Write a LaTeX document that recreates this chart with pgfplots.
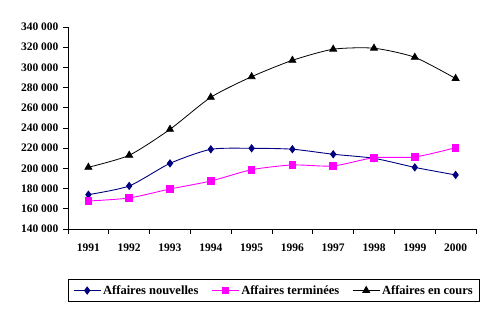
\documentclass[border=0pt]{standalone}
\usepackage{pgfplots}
\pgfplotsset{compat=1.18}
\usepackage{fontspec}
\setmainfont{Liberation Serif}
\definecolor{navyb}{RGB}{0,0,128}
\definecolor{magb}{RGB}{255,0,255}
\begin{document}
\begin{tikzpicture}
\useasboundingbox (-68pt,-92pt) rectangle (423pt,229pt);
\begin{axis}[
  at={(0pt,0pt)}, anchor=south west,
  scale only axis, width=408pt, height=202pt,
  xmin=-0.5, xmax=9.5, ymin=140000, ymax=340000,
  axis x line*=bottom, axis y line*=left,
  axis line style={line width=0.8pt,-},
  xtick={0,...,9},
  xticklabels={1991,1992,1993,1994,1995,1996,1997,1998,1999,2000},
  minor xtick={-0.5,0.5,...,9.5},
  major x tick style={draw=none},
  ytick={140000,160000,180000,200000,220000,240000,260000,280000,300000,320000,340000},
  yticklabels={140 000,160 000,180 000,200 000,220 000,240 000,260 000,280 000,300 000,320 000,340 000},
  tick align=outside, tick style={line width=0.8pt,black},
  major tick length=5pt, minor tick length=5pt,
  scaled y ticks=false,
  yticklabel style={font=\fontsize{11.5}{13}\selectfont\bfseries, xshift=-1pt},
  xticklabel style={font=\fontsize{11.5}{13}\selectfont\bfseries, yshift=-6pt},
  legend columns=3,
  legend style={at={(0.505,-0.2475)}, anchor=north, draw=black, line width=0.8pt,
    font=\fontsize{12.5}{14}\selectfont\bfseries, inner xsep=5pt, inner ysep=4pt,
    /tikz/every even column/.append style={column sep=11pt}},
  legend image code/.code={\draw[mark repeat=2,mark phase=2,#1] plot coordinates {(0pt,0pt) (13.5pt,0pt) (27pt,0pt)};},
]
\addplot[navyb, line width=0.9pt, smooth, tension=0.4, mark=diamond*, mark size=3.5pt, mark options={fill=navyb, solid}] coordinates {
(0,174000) (1,182600) (2,205000) (3,218900) (4,219900) (5,219000) (6,214000) (7,210000) (8,201000) (9,193500)};
\addlegendentry{Affaires nouvelles}
\addplot[magb, line width=0.9pt, smooth, tension=0.4, mark=square*, mark size=3.3pt, mark options={fill=magb, solid}] coordinates {
(0,167700) (1,170700) (2,179600) (3,187500) (4,198700) (5,203400) (6,202400) (7,210600) (8,211300) (9,220500)};
\addlegendentry{Affaires terminées}
\addplot[black, line width=0.8pt, smooth, tension=0.4, mark=triangle*, mark size=4pt, mark options={fill=black, solid}] coordinates {
(0,201100) (1,213000) (2,238700) (3,270400) (4,290800) (5,307000) (6,318000) (7,319000) (8,310000) (9,289000)};
\addlegendentry{Affaires en cours}
\end{axis}
\end{tikzpicture}
\end{document}
